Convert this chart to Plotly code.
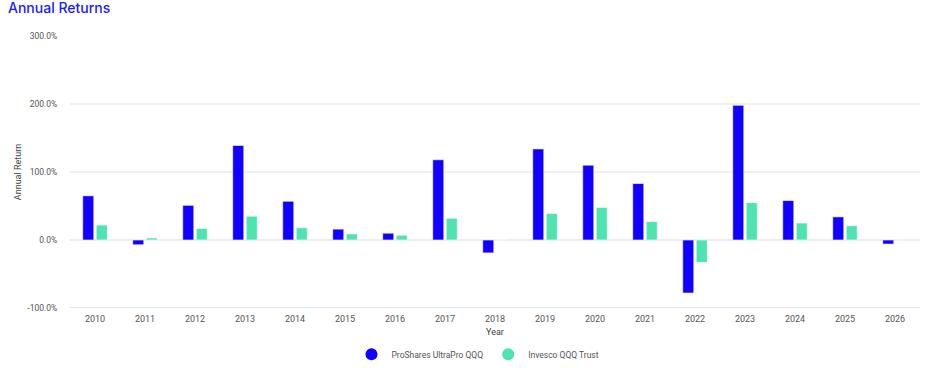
import plotly.graph_objects as go

years = [str(y) for y in range(2010, 2027)]
tqqq = [65, -7, 51, 139, 57, 16, 10, 118, -19, 134, 110, 83, -78, 198, 58, 34, -6]
qqq = [22, 3, 17, 35, 18, 9, 7, 32, -0.2, 39, 48, 27, -33, 55, 25, 21, 0.5]
names = ["ProShares UltraPro QQQ", "Invesco QQQ Trust"]
colors = ["#1200ff", "#4fe3b1"]
y_ticks = [-100, 0, 100, 200, 300]
y_labels = ["-100.0%", "0.0%", "100.0%", "200.0%", "300.0%"]

fig = go.Figure()
for vals, name, col in zip([tqqq, qqq], names, colors):
    fig.add_trace(go.Bar(
        x=years, y=vals, name=name, showlegend=False,
        marker=dict(color=col, line=dict(color="rgba(255,255,255,0.6)", width=1)),
    ))
for name, col in zip(names, colors):
    fig.add_trace(go.Scatter(
        x=[None], y=[None], mode="markers", name=name,
        marker=dict(color=col, size=8, symbol="circle"),
    ))

fig.update_layout(
    width=935, height=379,
    margin=dict(l=70, r=15, t=36, b=71, autoexpand=False),
    paper_bgcolor="white", plot_bgcolor="white",
    font=dict(family="Roboto, Inter, sans-serif", size=9, color="#555"),
    title=dict(text="Annual Returns", x=0.0, xanchor="left", y=1.0, yanchor="top",
               pad=dict(l=8, t=3),
               font=dict(family="Inter, Open Sans, sans-serif", size=14, color="#1a1aff",
                         weight=500)),
    barmode="group", bargap=0.46, bargroupgap=0.18,
    legend=dict(orientation="h", x=0.48, xanchor="center", y=-0.17, yanchor="middle",
                font=dict(size=8.5, color="#555"), itemsizing="constant", itemwidth=30),
    xaxis=dict(title=dict(text="Year", font=dict(size=9, color="#444"), standoff=5),
               showgrid=False, showline=False, ticks="outside", ticklen=2, tickcolor="white",
               tickfont=dict(size=9, color="#555")),
    yaxis=dict(title=dict(text="Annual Return", font=dict(size=9, color="#444"), standoff=4),
               range=[-100, 300], tickvals=y_ticks, ticktext=y_labels,
               ticks="outside", ticklen=10, tickcolor="white",
               gridcolor="#f0f0f0", gridwidth=1.5, zeroline=True, zerolinecolor="#ededed",
               zerolinewidth=1.5, showline=False, tickfont=dict(size=8.5, color="#555")),
)
fig.add_shape(type="line", xref="paper", yref="y", x0=0, x1=1, y0=-100, y1=-100,
              line=dict(color="#e2e6f0", width=2))

fig.write_html("out.html", config={"displayModeBar": False},
               post_script="document.body.style.margin='0px';")
